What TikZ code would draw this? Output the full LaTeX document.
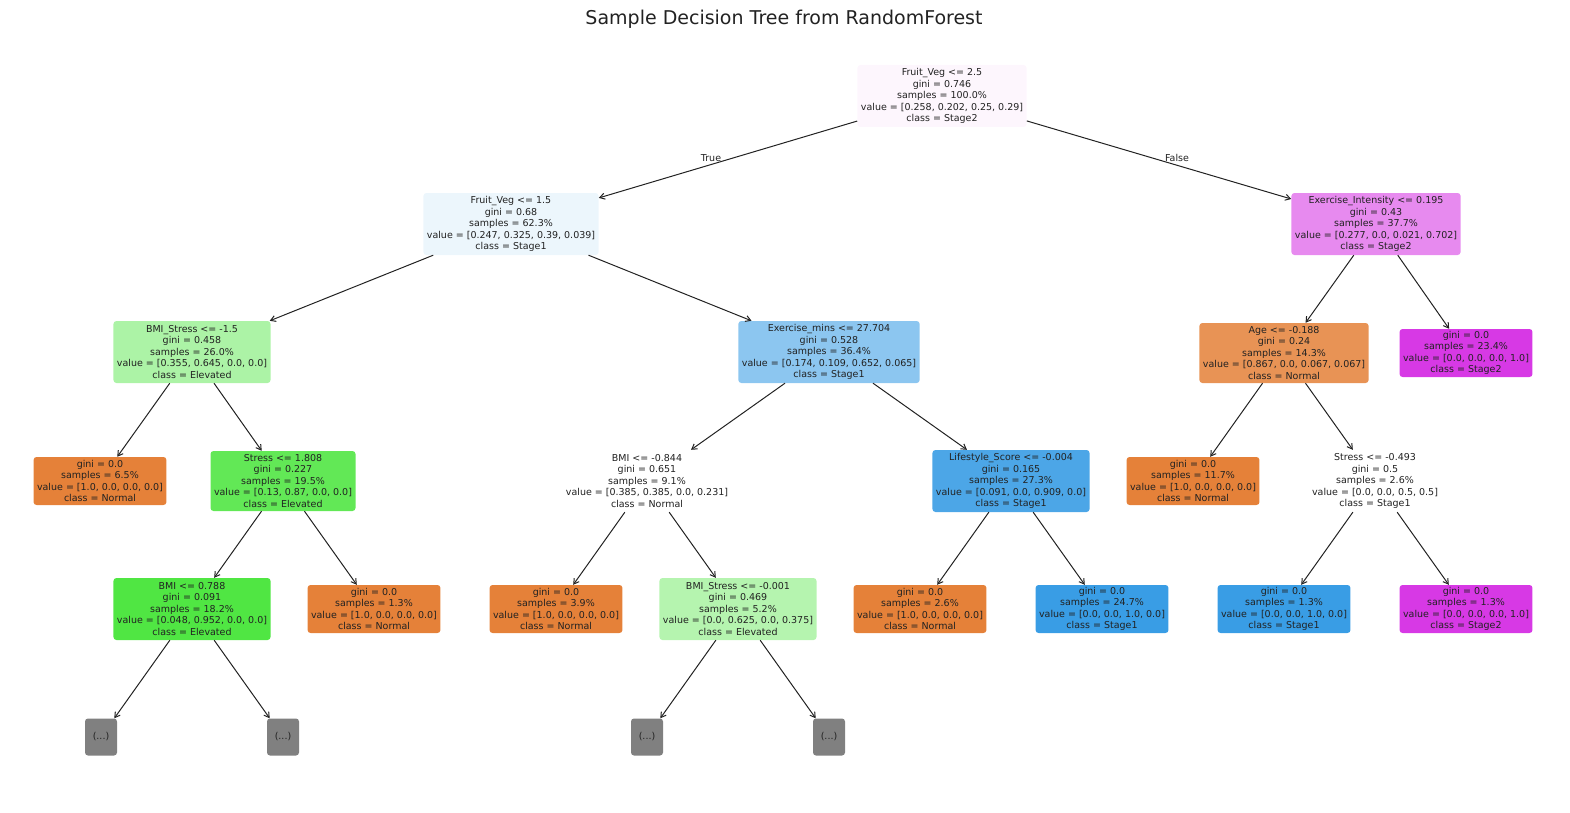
\documentclass[tikz,border=0pt]{standalone}
\usepackage{fontspec}
\setmainfont{DejaVu Sans}
\usetikzlibrary{arrows.meta}
\definecolor{txt}{RGB}{34,34,34}
\definecolor{cRoot}{RGB}{253,246,253}
\definecolor{cFVa}{RGB}{236,246,252}
\definecolor{cEI}{RGB}{231,138,239}
\definecolor{cBS}{RGB}{172,243,166}
\definecolor{cEM}{RGB}{140,198,240}
\definecolor{cAge}{RGB}{232,147,85}
\definecolor{cSt}{RGB}{98,232,86}
\definecolor{cLS}{RGB}{76,166,231}
\definecolor{cBMI}{RGB}{80,230,67}
\definecolor{cBSb}{RGB}{181,244,175}
\definecolor{cNormal}{RGB}{229,129,57}
\definecolor{cStageA}{RGB}{57,157,229}
\definecolor{cStageB}{RGB}{215,57,229}
\definecolor{cMore}{RGB}{128,128,128}
\tikzset{
  treenode/.style={rectangle, rounded corners=3pt, align=center, text=txt,
    font=\fontsize{9.5}{11.5}\selectfont, inner xsep=3.5pt, inner ysep=2pt, draw=none},
  split/.style={treenode, minimum height=62pt},
  leaf/.style={treenode, minimum height=48pt},
  more/.style={treenode, minimum width=32pt, minimum height=37pt, fill=cMore},
  edge/.style={draw=txt, line width=1pt, -{Straight Barb[length=5pt,width=6pt]}},
  elabel/.style={text=txt, font=\fontsize{9.5}{11.5}\selectfont, inner sep=0pt}
}
\begin{document}
\begin{tikzpicture}[x=1pt,y=-1pt]
\useasboundingbox (0,0) rectangle (1570,813);
\node[text=txt, font=\fontsize{19}{22}\selectfont] (title) at (784,19) {Sample Decision Tree from RandomForest};

\node[split, fill=cRoot] (root) at (942,96) {Fruit\_Veg <= 2.5\\gini = 0.746\\samples = 100.0\%\\value = [0.258, 0.202, 0.25, 0.29]\\class = Stage2};
\node[split, fill=cFVa] (n1) at (511,224) {Fruit\_Veg <= 1.5\\gini = 0.68\\samples = 62.3\%\\value = [0.247, 0.325, 0.39, 0.039]\\class = Stage1};
\node[split, fill=cEI] (n2) at (1376,224) {Exercise\_Intensity <= 0.195\\gini = 0.43\\samples = 37.7\%\\value = [0.277, 0.0, 0.021, 0.702]\\class = Stage2};
\node[split, fill=cBS] (n3) at (192,352) {BMI\_Stress <= -1.5\\gini = 0.458\\samples = 26.0\%\\value = [0.355, 0.645, 0.0, 0.0]\\class = Elevated};
\node[split, fill=cEM] (n4) at (829,352) {Exercise\_mins <= 27.704\\gini = 0.528\\samples = 36.4\%\\value = [0.174, 0.109, 0.652, 0.065]\\class = Stage1};
\node[split, fill=cAge, minimum height=60pt] (n5) at (1284,353) {Age <= -0.188\\gini = 0.24\\samples = 14.3\%\\value = [0.867, 0.0, 0.067, 0.067]\\class = Normal};
\node[leaf, fill=cStageB] (n6) at (1466,353) {gini = 0.0\\samples = 23.4\%\\value = [0.0, 0.0, 0.0, 1.0]\\class = Stage2};

\node[leaf, fill=cNormal] (n7) at (100,481) {gini = 0.0\\samples = 6.5\%\\value = [1.0, 0.0, 0.0, 0.0]\\class = Normal};
\node[split, fill=cSt, minimum height=60pt] (n8) at (283,481) {Stress <= 1.808\\gini = 0.227\\samples = 19.5\%\\value = [0.13, 0.87, 0.0, 0.0]\\class = Elevated};
\node[split, fill=white] (n9) at (647,481) {BMI <= -0.844\\gini = 0.651\\samples = 9.1\%\\value = [0.385, 0.385, 0.0, 0.231]\\class = Normal};
\node[split, fill=cLS] (n10) at (1011,481) {Lifestyle\_Score <= -0.004\\gini = 0.165\\samples = 27.3\%\\value = [0.091, 0.0, 0.909, 0.0]\\class = Stage1};
\node[leaf, fill=cNormal] (n11) at (1193,481) {gini = 0.0\\samples = 11.7\%\\value = [1.0, 0.0, 0.0, 0.0]\\class = Normal};
\node[split, fill=white] (n12) at (1375,481) {Stress <= -0.493\\gini = 0.5\\samples = 2.6\%\\value = [0.0, 0.0, 0.5, 0.5]\\class = Stage1};

\node[split, fill=cBMI] (n13) at (192,609) {BMI <= 0.788\\gini = 0.091\\samples = 18.2\%\\value = [0.048, 0.952, 0.0, 0.0]\\class = Elevated};
\node[leaf, fill=cNormal] (n14) at (374,609) {gini = 0.0\\samples = 1.3\%\\value = [1.0, 0.0, 0.0, 0.0]\\class = Normal};
\node[leaf, fill=cNormal] (n15) at (556,609) {gini = 0.0\\samples = 3.9\%\\value = [1.0, 0.0, 0.0, 0.0]\\class = Normal};
\node[split, fill=cBSb] (n16) at (738,609) {BMI\_Stress <= -0.001\\gini = 0.469\\samples = 5.2\%\\value = [0.0, 0.625, 0.0, 0.375]\\class = Elevated};
\node[leaf, fill=cNormal] (n17) at (920,609) {gini = 0.0\\samples = 2.6\%\\value = [1.0, 0.0, 0.0, 0.0]\\class = Normal};
\node[leaf, fill=cStageA] (n18) at (1102,609) {gini = 0.0\\samples = 24.7\%\\value = [0.0, 0.0, 1.0, 0.0]\\class = Stage1};
\node[leaf, fill=cStageA] (n19) at (1284,609) {gini = 0.0\\samples = 1.3\%\\value = [0.0, 0.0, 1.0, 0.0]\\class = Stage1};
\node[leaf, fill=cStageB] (n20) at (1466,609) {gini = 0.0\\samples = 1.3\%\\value = [0.0, 0.0, 0.0, 1.0]\\class = Stage2};

\node[more] (d1) at (101,737) {(...)};
\node[more] (d2) at (283,737) {(...)};
\node[more] (d3) at (647,737) {(...)};
\node[more] (d4) at (829,737) {(...)};

\node[elabel] (lt) at (711,158) {True};
\node[elabel] (lf) at (1177,158) {False};

\foreach \a/\b in {root/n1, root/n2, n1/n3, n1/n4, n2/n5, n2/n6, n3/n7, n3/n8,
  n8/n13, n8/n14, n4/n9, n4/n10, n9/n15, n9/n16, n10/n17, n10/n18, n5/n11, n5/n12,
  n12/n19, n12/n20, n13/d1, n13/d2, n16/d3, n16/d4}
  \draw[edge] (\a) -- (\b);
\end{tikzpicture}
\end{document}
